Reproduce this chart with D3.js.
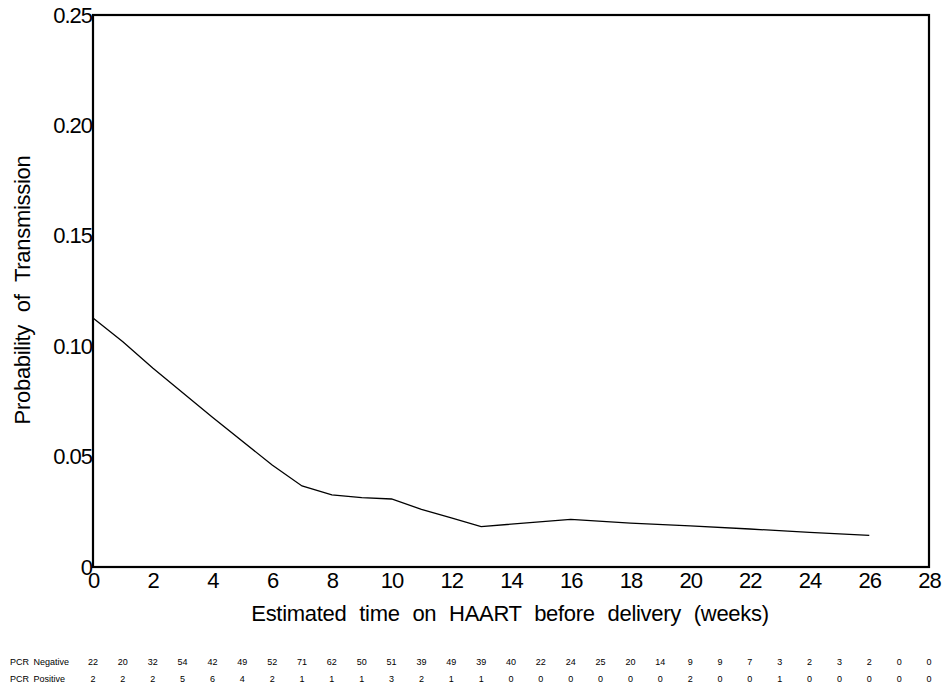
<!DOCTYPE html>
<meta charset="utf-8">
<style>
body { margin: 0; background: #fff; }
svg { display: block; }
text { font-family: "Liberation Sans", Arial, sans-serif; fill: #000; }
.tick text { font-size: 22px; letter-spacing: -1px; }
.title { font-size: 22px; word-spacing: 7px; letter-spacing: -0.3px; }
.table text { font-size: 9px; }
</style>
<body>
<svg width="947" height="687"></svg>
</body>
<script src="https://cdn.jsdelivr.net/npm/d3@7/dist/d3.min.js"></script>
<script>

// curve
var weeks = [0, 1, 2, 4, 6, 7, 8, 9, 10, 11, 12, 13, 16, 18, 20, 22, 24, 26];
var prob = [0.1128, 0.102, 0.0901, 0.0678, 0.0462, 0.0367, 0.0327, 0.0314, 0.0308,
            0.0261, 0.0223, 0.0183, 0.0216, 0.0199, 0.0186, 0.0172, 0.0157, 0.0143];

// counts under the axis, one per week 0..28
var pcrNeg = [22, 20, 32, 54, 42, 49, 52, 71, 62, 50, 51, 39, 49, 39, 40, 22, 24, 25,
              20, 14, 9, 9, 7, 3, 2, 3, 2, 0, 0];
var pcrPos = [2, 2, 2, 5, 6, 4, 2, 1, 1, 1, 3, 2, 1, 1, 0, 0, 0, 0, 0, 0, 2, 0, 0, 1,
              0, 0, 0, 0, 0];

var xTicks = d3.range(0, 29, 2);
var yTicks = [0, 0.05, 0.10, 0.15, 0.20, 0.25];

var svg = d3.select("svg");
var plotL = 93, plotR = 929, plotT = 15, plotB = 567;

var x = d3.scaleLinear().domain([0, 28]).range([plotL, plotR]);
var y = d3.scaleLinear().domain([0, 0.25]).range([plotB, plotT]);

// frame
svg.append("rect")
    .attr("x", plotL).attr("y", plotT)
    .attr("width", plotR - plotL).attr("height", plotB - plotT)
    .attr("fill", "none").attr("stroke", "#000").attr("stroke-width", 2.2);

var xAxis = svg.append("g")
    .attr("transform", `translate(0,${plotB})`)
    .call(d3.axisBottom(x).tickValues(xTicks).tickSize(0).tickPadding(5).tickFormat(d3.format("d")));
xAxis.select(".domain").remove();
xAxis.selectAll("text").attr("dy", "0.72em");

var yAxis = svg.append("g")
    .attr("transform", `translate(${plotL},0)`)
    .call(d3.axisLeft(y).tickValues(yTicks).tickSize(0).tickPadding(1)
      .tickFormat(d => d === 0 ? "0" : d3.format(".2f")(d)));
yAxis.select(".domain").remove();

svg.append("path")
    .datum(weeks.map((w, i) => [w, prob[i]]))
    .attr("fill", "none")
    .attr("stroke", "#000")
    .attr("stroke-width", 1.3)
    .attr("d", d3.line().x(d => x(d[0])).y(d => y(d[1])));

svg.append("text")
    .attr("class", "title")
    .attr("x", 510)
    .attr("y", 621)
    .attr("text-anchor", "middle")
    .text("Estimated time on HAART before delivery (weeks)");

svg.append("text")
    .attr("class", "title")
    .attr("transform", "translate(30,290) rotate(-90)")
    .attr("text-anchor", "middle")
    .text("Probability of Transmission");

// count table
var table = svg.append("g").attr("class", "table");
[["PCR Negative", pcrNeg, 665], ["PCR Positive", pcrPos, 682]].forEach(function(row) {
  table.append("text")
      .attr("x", 10).attr("y", row[2])
      .attr("word-spacing", "2px")
      .text(row[0]);
  table.selectAll(null)
    .data(row[1])
    .enter().append("text")
      .attr("x", (d, i) => x(i))
      .attr("y", row[2])
      .attr("text-anchor", "middle")
      .text(d => d);
});

</script>
